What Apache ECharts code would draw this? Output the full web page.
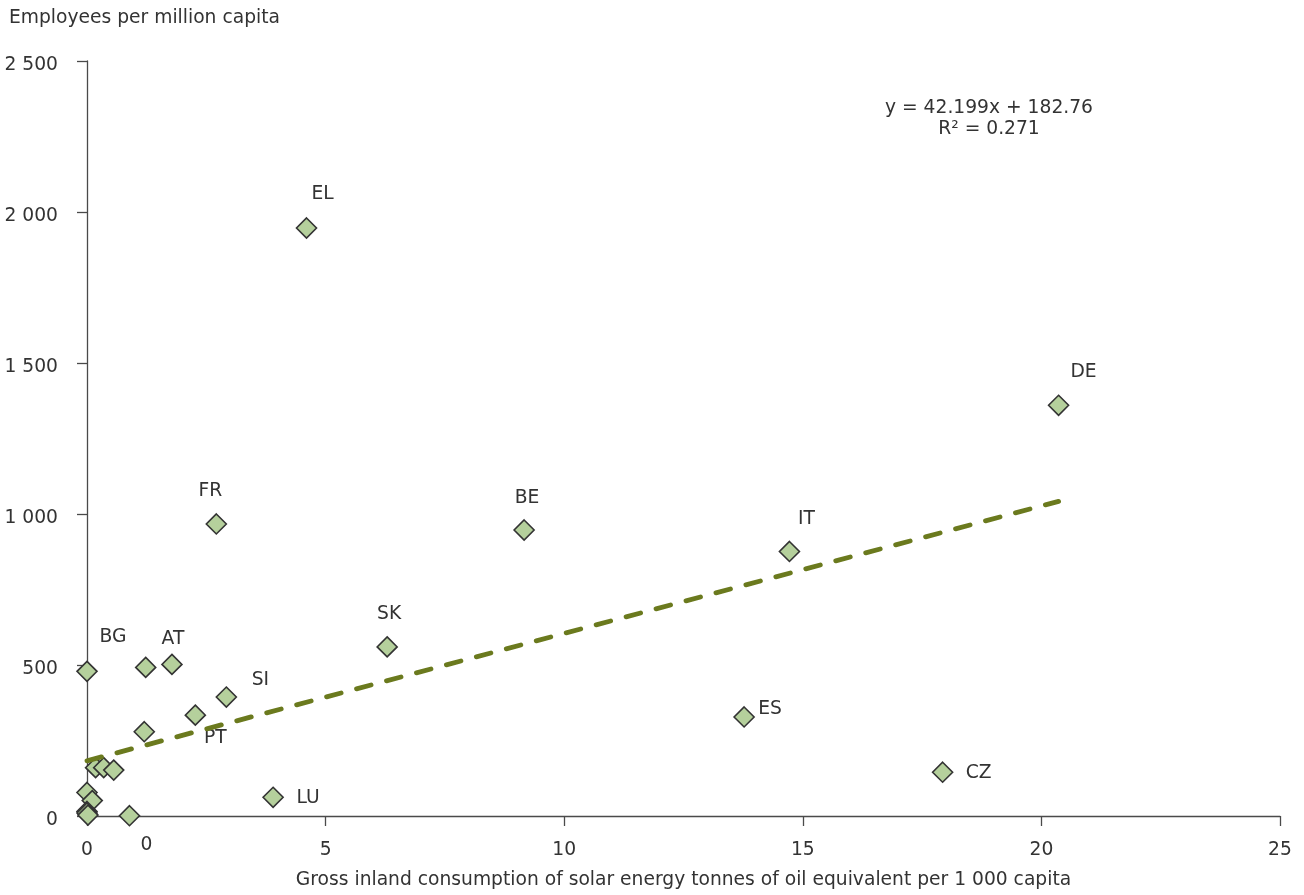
<!DOCTYPE html>
<html>
<head>
<meta charset="utf-8">
<script src="https://cdn.jsdelivr.net/npm/echarts@6/dist/echarts.min.js"></script>
<style>
html,body{margin:0;padding:0;background:#fff;}
#chart{width:1304px;height:895px;}
</style>
</head>
<body>
<div id="chart"></div>
<script>
// ---- data ----
const countries = ['EL','DE','FR','BE','IT','SK','BG','','AT','SI','PT','','ES','CZ','LU','','','','','','','','','0'];
const solarConsumption = [4.60,20.36,2.71,9.16,14.72,6.29,0.00,1.23,1.78,2.92,2.27,1.20,13.77,17.93,3.90,0.18,0.35,0.56,0.00,0.11,0.00,0.00,0.02,0.89];
const employees = [1947,1360,967,947,876,560,479,492,502,394,334,279,328,145,62,160,160,152,78,51,15,10,3,1];
const xTicks = [0,5,10,15,20,25];
const yTicks = [0,500,1000,1500,2000,2500];
const trendSlope = 42.199;
const trendIntercept = 182.76;
const trendText = ['y = 42.199x + 182.76', 'R\u00b2 = 0.271'];
const xAxisTitle = 'Gross inland consumption of solar energy tonnes of oil equivalent per 1 000 capita';
const yAxisTitle = 'Employees per million capita';

// ---- label placement (style, not data) ----
const labelOffset = {
  EL:[16,-34], DE:[25,-33], FR:[-6,-33], BE:[3,-32], IT:[17,-32], SK:[2,-33],
  BG:[26,-34], AT:[1,-25], SI:[34,-17], PT:[20,23], ES:[26,-8], CZ:[36,1],
  LU:[35,1], '0':[17,29]
};

const FONT = 'DejaVu Sans';
const FS = 18.7;
const TXT = '#333333';
const FONTSTR = FS + 'px "DejaVu Sans"';

const scatterData = countries.map((c, i) => {
  const d = { name: c, value: [solarConsumption[i], employees[i]] };
  if (c) {
    d.label = { show: true, formatter: c, position: 'inside', offset: labelOffset[c] || [0,-30] };
  }
  return d;
});

const xMaxData = Math.max(...solarConsumption);
const trendData = [
  [0, trendIntercept],
  [xMaxData, trendSlope * xMaxData + trendIntercept]
];

function fmt(v){ return String(v).replace(/\B(?=(\d{3})+(?!\d))/g, ' '); }

const chart = echarts.init(document.getElementById('chart'), null, {renderer:'canvas'});
chart.setOption({
  animation: false,
  backgroundColor: '#ffffff',
  textStyle: { fontFamily: FONT, color: TXT },
  grid: { left: 87, right: 24, top: 61, bottom: 77, containLabel: false },
  xAxis: {
    type: 'value',
    min: xTicks[0], max: xTicks[xTicks.length-1], interval: xTicks[1]-xTicks[0],
    name: xAxisTitle, nameLocation: 'middle', nameGap: 55,
    nameTextStyle: { fontFamily: FONT, fontSize: FS, color: TXT },
    axisLine: { show: true, onZero: false, lineStyle: { color: '#4a4a4a', width: 1.3 } },
    axisTick: { show: true, length: 10, lineStyle: { color: '#4a4a4a', width: 1.3 } },
    axisLabel: { margin: 25, fontFamily: FONT, fontSize: FS, color: TXT },
    splitLine: { show: false }
  },
  yAxis: {
    type: 'value',
    min: yTicks[0], max: yTicks[yTicks.length-1], interval: yTicks[1]-yTicks[0],
    axisLine: { show: true, onZero: false, lineStyle: { color: '#4a4a4a', width: 1.3 } },
    axisTick: { show: true, length: 10, lineStyle: { color: '#4a4a4a', width: 1.3 } },
    axisLabel: { margin: 29, fontFamily: FONT, fontSize: FS, color: TXT, formatter: fmt,
                 verticalAlign: 'top', lineHeight: 8 },
    splitLine: { show: false }
  },
  graphic: [
    { type: 'text', z: 100,
      style: { x: 9, y: 18, text: yAxisTitle, font: FONTSTR, fill: TXT, textVerticalAlign: 'middle' } },
    { type: 'text', z: 100,
      style: { x: 989, y: 108, text: trendText[0], font: FONTSTR, fill: TXT,
               textAlign: 'center', textVerticalAlign: 'middle' } },
    { type: 'text', z: 100,
      style: { x: 989, y: 129, text: trendText[1], font: FONTSTR, fill: TXT,
               textAlign: 'center', textVerticalAlign: 'middle' } }
  ],
  series: [
    {
      type: 'scatter',
      data: scatterData,
      symbol: 'diamond',
      symbolSize: 20,
      clip: false,
      z: 2,
      itemStyle: { color: '#b5d09c', borderColor: '#333333', borderWidth: 1.6, opacity: 1 },
      label: { show: false, fontFamily: FONT, fontSize: FS, color: TXT },
      emphasis: { disabled: true }
    },
    {
      type: 'line',
      data: trendData,
      symbol: 'none',
      z: 3,
      lineStyle: { color: '#6b7a1e', width: 4.8, type: [15, 16], cap: 'round' },
      emphasis: { disabled: true }
    }
  ]
});
</script>
</body>
</html>
